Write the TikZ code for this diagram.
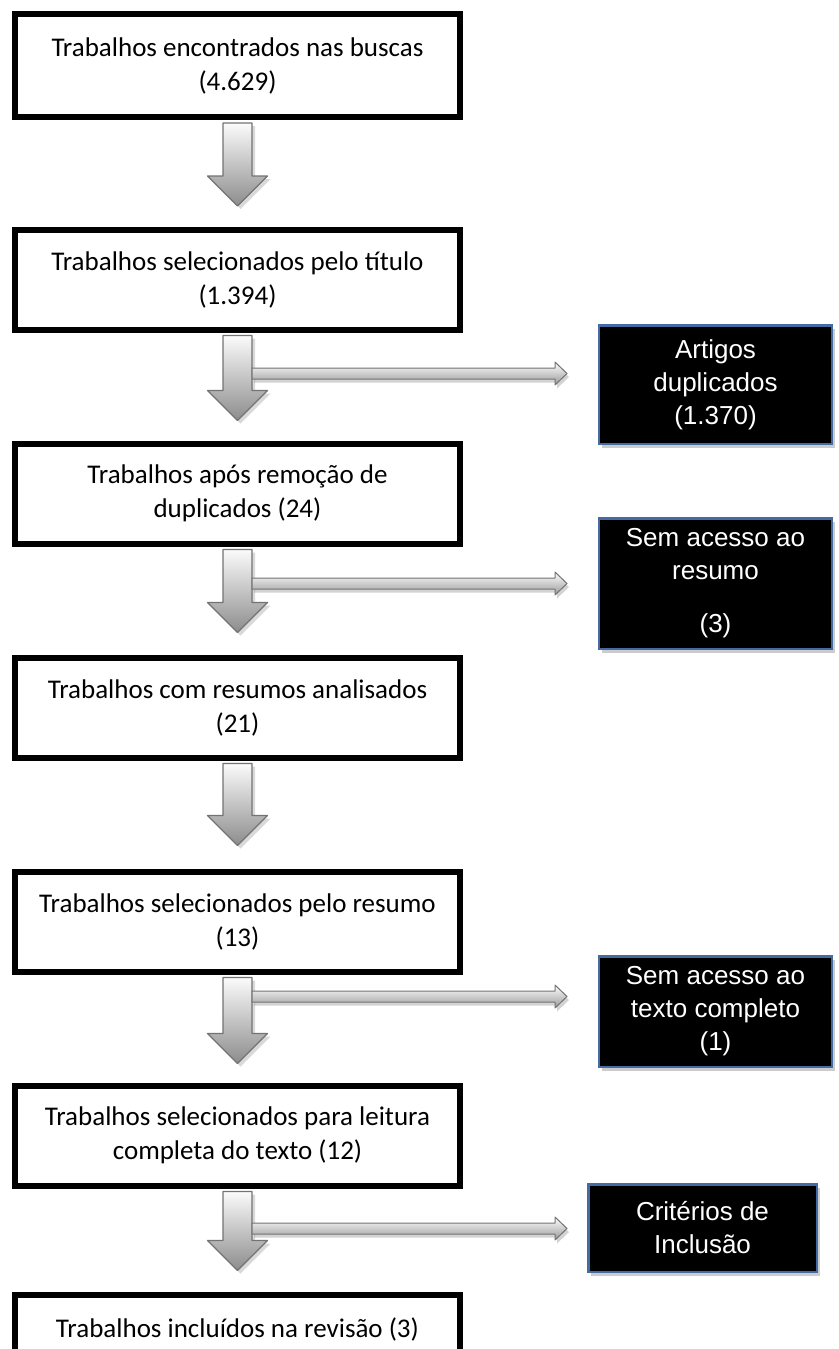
\documentclass[tikz,border=0pt]{standalone}
\usepackage{fontspec}
\setmainfont{Carlito}
\newfontfamily\arialfont{Liberation Sans}
\usetikzlibrary{calc, shadows}
\definecolor{sideblue}{RGB}{68,108,162}
\definecolor{arrowgray}{RGB}{115,115,115}
\tikzstyle{stage} = [rectangle, minimum width=445pt, minimum height=100pt, align=center, line width=6pt, draw=black, font=\fontsize{27}{34}\selectfont]
\tikzstyle{excluded} = [rectangle, minimum width=233pt, line width=2.5pt, draw=sideblue, fill=black, text=white, align=center, font=\arialfont\fontsize{26}{33}\selectfont, drop shadow={shadow xshift=3pt, shadow yshift=-4pt, opacity=0.4}]
\tikzstyle{downarrow} = [draw=arrowgray, line width=1.2pt, line join=round, top color=white, bottom color=black!45, drop shadow={shadow xshift=3pt, shadow yshift=-3pt, opacity=0.3}, to path={++(-14.5,-3) -- ++(29,0) -- ($(\tikztotarget)+(14.5,30)$) -- ++(15.5,0) -- (\tikztotarget) -- ++(-30,30) -- ++(15.5,0) -- cycle}]
\tikzstyle{sidearrow} = [draw=arrowgray, line width=1pt, line join=round, top color=white, bottom color=black!40, drop shadow={shadow xshift=2pt, shadow yshift=-3.5pt, opacity=0.35}, to path={++(0,5.5) -- ($(\tikztotarget)+(-12,5.5)$) -- ++(0,6) -- (\tikztotarget) -- ++(-12,-11.5) -- ++(0,6) -- ($(\tikztostart)+(0,-5.5)$) -- cycle}]

\begin{document}
\begin{tikzpicture}[x=1pt, y=1pt, node distance=214pt]
\useasboundingbox (0,0) rectangle (838,-1349);

\node (b1) [stage, minimum height=103pt] at (237.5,-65.5) {Trabalhos encontrados nas buscas\\(4.629)};
\node (b2) [stage, below of=b1] {Trabalhos selecionados pelo título\\(1.394)};
\node (b3) [stage, below of=b2] {Trabalhos após remoção de\\duplicados (24)};
\node (b4) [stage, below of=b3] {Trabalhos com resumos analisados\\(21)};
\node (b5) [stage, below of=b4] {Trabalhos selecionados pelo resumo\\(13)};
\node (b6) [stage, below of=b5] {Trabalhos selecionados para leitura\\completa do texto (12)};
\node (b7) [stage, below of=b6, yshift=4.5pt] {Trabalhos incluídos na revisão (3)\\\mbox{}};

\node (s1) [excluded, right of=b2, xshift=264pt, yshift=-105pt, minimum height=118.5pt] {Artigos\\duplicados\\(1.370)};
\node (s2) [excluded, right of=b3, xshift=264pt, yshift=-90pt, minimum height=130.5pt] {Sem acesso ao\\resumo\\[20pt](3)};
\node (s3) [excluded, right of=b5, xshift=264pt, yshift=-90pt, minimum height=110.5pt] {Sem acesso ao\\texto completo\\(1)};
\node (s4) [excluded, right of=b6, xshift=251pt, yshift=-92.5pt, minimum width=228.5pt, minimum height=87.5pt] {Critérios de\\Inclusão};

\coordinate (c1) at ([yshift=-86pt]b1.south);
\coordinate (c2) at ([yshift=-88pt]b2.south);
\coordinate (c3) at ([yshift=-86pt]b3.south);
\coordinate (c4) at ([yshift=-85pt]b4.south);
\coordinate (c5) at ([yshift=-89pt]b5.south);
\coordinate (c6) at ([yshift=-82pt]b6.south);
\coordinate (k2) at ([xshift=14.5pt, yshift=-41pt]b2.south);
\coordinate (k3) at ([xshift=14.5pt, yshift=-37pt]b3.south);
\coordinate (k5) at ([xshift=14.5pt, yshift=-22pt]b5.south);
\coordinate (k6) at ([xshift=14.5pt, yshift=-40pt]b6.south);
\coordinate (tipx) at (567,0);

\draw [downarrow] (b1.south) to (c1);
\draw [downarrow] (b2.south) to (c2);
\draw [sidearrow] (k2) to (k2 -| tipx);
\draw [downarrow] (b3.south) to (c3);
\draw [sidearrow] (k3) to (k3 -| tipx);
\draw [downarrow] (b4.south) to (c4);
\draw [downarrow] (b5.south) to (c5);
\draw [sidearrow] (k5) to (k5 -| tipx);
\draw [downarrow] (b6.south) to (c6);
\draw [sidearrow] (k6) to (k6 -| tipx);
\end{tikzpicture}
\end{document}
